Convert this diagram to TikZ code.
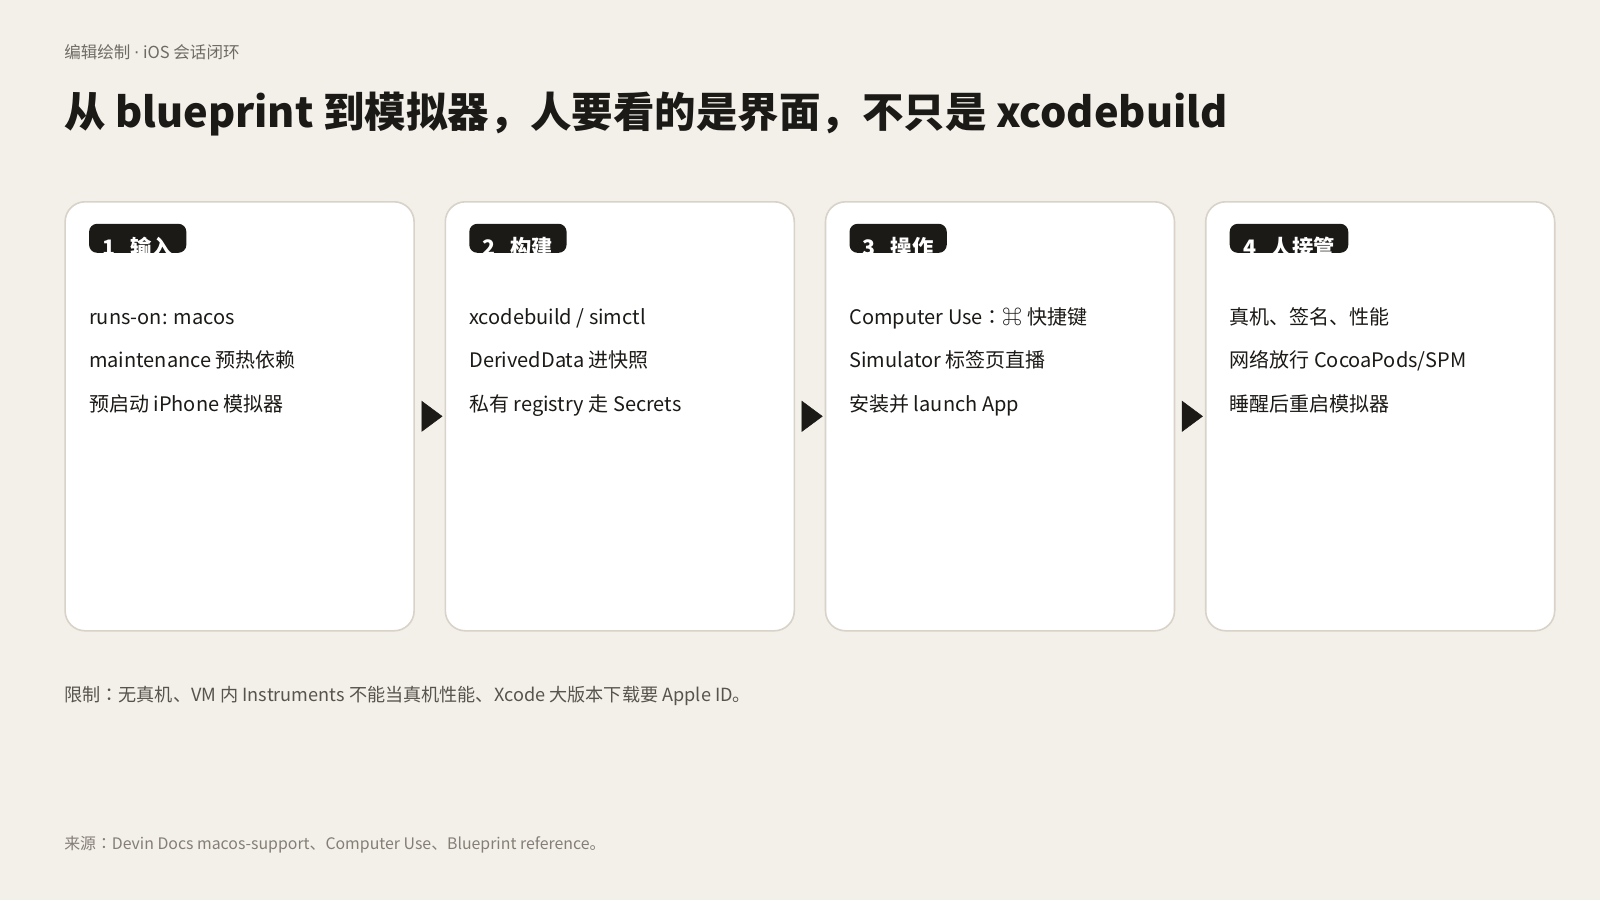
\documentclass[tikz,border=0pt]{standalone}
\usepackage{fontspec}
\setmainfont{Noto Sans CJK SC}
\newfontfamily\symfont{DejaVu Sans}
\newfontfamily\jpfont{Noto Sans CJK JP}
\usetikzlibrary{positioning,arrows.meta}

\definecolor{paper}{HTML}{F3F0EA}
\definecolor{ink}{HTML}{1C1A17}
\definecolor{cardline}{HTML}{D8D2C8}
\definecolor{kicker}{HTML}{6E6A64}
\definecolor{note}{HTML}{57534D}
\definecolor{source}{HTML}{847E76}

\newcommand\tagfont{\fontsize{16}{19}\selectfont\bfseries}
\newcommand\midcolon{{\jpfont ：}}

\begin{document}
\begin{tikzpicture}[
  x=0.75pt, y=-0.75pt,
  card/.style={draw=cardline, line width=1.2pt, fill=white, rounded corners=15pt,
    minimum width=261.75pt, minimum height=321.75pt, inner sep=0pt},
  tag/.style={fill=ink, rounded corners=6pt, minimum height=21.75pt,
    inner xsep=10pt, inner ysep=0pt, font=\tagfont},
  tagtext/.style={text=white, font=\tagfont, inner sep=0pt},
  item/.style={text=ink, font=\fontsize{15}{18}\selectfont, inner sep=0pt},
  flow/.style={-{Triangle[length=15.75pt, width=23.25pt]}, ink, line width=0.4pt,
    shorten <=6.75pt, shorten >=1.5pt}
]

% page
\fill[paper] (0,0) rectangle (1600,900);
\useasboundingbox (0,0) rectangle (1600,900);

% heading
\node[anchor=base west, inner sep=0pt, text=kicker, font=\fontsize{12.4}{15}\selectfont] (kicker) at (64,58) {编辑绘制 {\symfont ·} iOS 会话闭环};
\node[anchor=base west, inner sep=0pt, text=ink, font=\fontsize{31.1}{37}\selectfont\bfseries] (title) at (64,127) {从 blueprint 到模拟器，人要看的是界面，不只是 xcodebuild};

% four cards
\node[card, anchor=north west] (input) at (64.3,201) {};
\node[card, right=22.2pt of input] (build) {};
\node[card, right=22.2pt of build] (operate) {};
\node[card, right=22.2pt of operate] (takeover) {};

% step tags
\node[tag, anchor=north west] (input_tag) at ([xshift=18.4pt, yshift=-16.9pt]input.north west) {\phantom{1\hspace{0.7em}输入}};
\node[tagtext] at ([yshift=-6.75pt]input_tag.center) {1\hspace{0.7em}输入};
\node[tag, anchor=north west] (build_tag) at ([xshift=18.4pt, yshift=-16.9pt]build.north west) {\phantom{2\hspace{0.7em}构建}};
\node[tagtext] at ([yshift=-6.75pt]build_tag.center) {2\hspace{0.7em}构建};
\node[tag, anchor=north west] (operate_tag) at ([xshift=18.4pt, yshift=-16.9pt]operate.north west) {\phantom{3\hspace{0.7em}操作}};
\node[tagtext] at ([yshift=-6.75pt]operate_tag.center) {3\hspace{0.7em}操作};
\node[tag, anchor=north west] (takeover_tag) at ([xshift=18.4pt, yshift=-16.9pt]takeover.north west) {\phantom{4\hspace{0.7em}人接管}};
\node[tagtext] at ([yshift=-6.75pt]takeover_tag.center) {4\hspace{0.7em}人接管};

% card items
\node[item, anchor=base west] (input_a) at ([xshift=18.4pt, yshift=-92.25pt]input.north west) {runs-on: macos};
\node[item, anchor=base west] (input_b) at ([yshift=-32.9pt]input_a.base west) {maintenance 预热依赖};
\node[item, anchor=base west] (input_c) at ([yshift=-32.9pt]input_b.base west) {预启动 iPhone 模拟器};

\node[item, anchor=base west] (build_a) at ([xshift=18.4pt, yshift=-92.25pt]build.north west) {xcodebuild / simctl};
\node[item, anchor=base west] (build_b) at ([yshift=-32.9pt]build_a.base west) {DerivedData 进快照};
\node[item, anchor=base west] (build_c) at ([yshift=-32.9pt]build_b.base west) {私有 registry 走 Secrets};

\node[item, anchor=base west] (operate_a) at ([xshift=18.4pt, yshift=-92.25pt]operate.north west) {Computer Use\midcolon{\jpfont ⌘} 快捷键};
\node[item, anchor=base west] (operate_b) at ([yshift=-32.9pt]operate_a.base west) {Simulator 标签页直播};
\node[item, anchor=base west] (operate_c) at ([yshift=-32.9pt]operate_b.base west) {安装并 launch App};

\node[item, anchor=base west] (takeover_a) at ([xshift=18.4pt, yshift=-92.25pt]takeover.north west) {真机、签名、性能};
\node[item, anchor=base west] (takeover_b) at ([yshift=-32.9pt]takeover_a.base west) {网络放行 CocoaPods/SPM};
\node[item, anchor=base west] (takeover_c) at ([yshift=-32.9pt]takeover_b.base west) {睡醒后重启模拟器};

% flow between cards
\draw[flow] (input) -- (build);
\draw[flow] (build) -- (operate);
\draw[flow] (operate) -- (takeover);

% notes
\node[anchor=base west, inner sep=0pt, text=note, font=\fontsize{13.6}{16}\selectfont] (limits) at (64,701) {限制\midcolon 无真机、VM 内 Instruments 不能当真机性能、Xcode 大版本下载要 Apple ID。};
\node[anchor=base west, inner sep=0pt, text=source, font=\fontsize{11.9}{14}\selectfont] (sources) at (64,849) {来源\midcolon Devin Docs macos-support、Computer Use、Blueprint reference。};
\end{tikzpicture}
\end{document}
